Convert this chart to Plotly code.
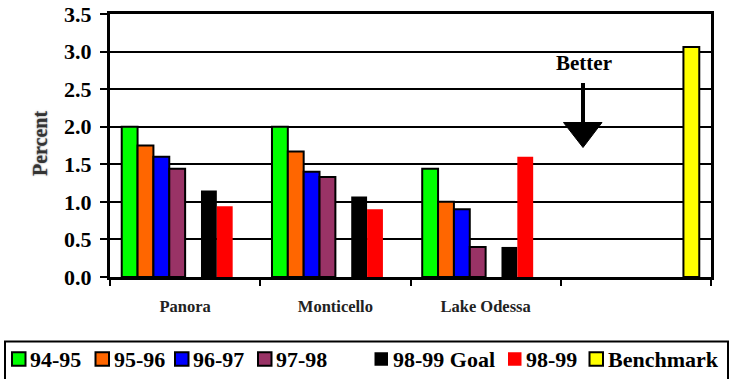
import plotly.graph_objects as go

# ---- data ----
categories = ["Panora", "Monticello", "Lake Odessa", " "]
series_names = ["94-95", "95-96", "96-97", "97-98", "", "98-99 Goal", "98-99", "Benchmark"]
v_94_95 = [2.00, 2.00, 1.44, None]
v_95_96 = [1.75, 1.67, 1.00, None]
v_96_97 = [1.60, 1.40, 0.90, None]
v_97_98 = [1.44, 1.33, 0.40, None]
v_spacer = [None, None, None, None]
v_goal = [1.15, 1.07, 0.40, None]
v_98_99 = [0.94, 0.90, 1.60, None]
v_bench = [None, None, None, 3.06]
y_tick_vals = [0.0, 0.5, 1.0, 1.5, 2.0, 2.5, 3.0, 3.5]

series_values = [v_94_95, v_95_96, v_96_97, v_97_98, v_spacer, v_goal, v_98_99, v_bench]
series_colors = ["#00FF00", "#FF6600", "#0000FF", "#993366", "rgba(0,0,0,0)",
                 "#000000", "#FF0000", "#FFFF00"]
series_outline = [2, 2, 2, 2, 0, 0, 0, 2]

# ---- geometry (pixels) ----
W, H = 730, 379
PL, PR, PT, PB = 110, 711, 14, 277


def px_x(px):
    return (px - PL) / (PR - PL)


def px_y(py):
    return (PB - py) / (PB - PT)


SERIF = "Liberation Serif"

fig = go.Figure()
for name, vals, col, lw in zip(series_names, series_values, series_colors, series_outline):
    fig.add_trace(go.Bar(
        x=categories, y=vals, name=name,
        marker=dict(color=col, line=dict(color="black", width=lw)),
        showlegend=False,
    ))

fig.update_layout(
    width=W, height=H,
    margin=dict(l=PL, r=W - PR, t=PT, b=H - PB, autoexpand=False),
    paper_bgcolor="white", plot_bgcolor="white",
    barmode="group", bargap=0.156, bargroupgap=0,
    font=dict(family=SERIF, color="black"),
)

fig.update_yaxes(
    range=[0, 3.5], tickvals=y_tick_vals, tickformat=".1f",
    tickfont=dict(family=SERIF, size=22, color="black", weight="bold"),
    showgrid=True, gridcolor="black", gridwidth=2,
    zeroline=False,
    showline=True, linecolor="black", linewidth=3, mirror=True,
    ticks="outside", ticklen=7, tickwidth=2, tickcolor="black",
    ticklabelstandoff=4,
)
fig.update_xaxes(
    type="category", tickson="boundaries",
    tickfont=dict(family=SERIF, size=16.5, color="#222222", weight="bold"),
    showgrid=False,
    showline=True, linecolor="black", linewidth=3, mirror=True,
    ticks="outside", ticklen=6, tickwidth=2, tickcolor="black",
    ticklabelstandoff=12,
)

# axis title
fig.add_annotation(
    text="Percent", xref="paper", yref="paper",
    x=px_x(40), y=px_y(144), xanchor="center", yanchor="middle",
    textangle=-90, showarrow=False,
    font=dict(family=SERIF, size=20, color="#333333", weight="bold",
              shadow="0px 0px 2px #777777"),
)

# "Better" callout with downward arrow
fig.add_annotation(
    text="Better", xref="paper", yref="paper",
    x=px_x(584), y=px_y(63), xanchor="center", yanchor="middle", showarrow=False,
    font=dict(family=SERIF, size=21, color="black", weight="bold"),
)
fig.add_shape(type="line", xref="paper", yref="paper",
              x0=px_x(583), x1=px_x(583), y0=px_y(83), y1=px_y(125),
              line=dict(color="black", width=4))
fig.add_shape(type="path", xref="paper", yref="paper",
              path="M {a},{b} L {c},{b} L {d},{e} Z".format(
                  a=px_x(563.5), b=px_y(122.5), c=px_x(602), d=px_x(583), e=px_y(147.5)),
              fillcolor="black", line=dict(color="black", width=1))

# legend box
fig.add_shape(type="rect", xref="paper", yref="paper",
              x0=px_x(5), x1=px_x(728), y0=px_y(341.5), y1=px_y(400),
              line=dict(color="black", width=2), fillcolor="rgba(0,0,0,0)")

legend_swatch_left = [12, 95.5, 175, 258, None, 374.5, 508, 589.5]
LEG_Y = 359
SW = 13.5
for name, col, lw, sx in zip(series_names, series_colors, series_outline, legend_swatch_left):
    if sx is None:
        continue
    fig.add_shape(type="rect", xref="paper", yref="paper",
                  x0=px_x(sx), x1=px_x(sx + SW),
                  y0=px_y(LEG_Y - SW / 2), y1=px_y(LEG_Y + SW / 2),
                  fillcolor=col,
                  line=dict(color="black", width=2 if lw else 0))
    fig.add_annotation(
        text=name, xref="paper", yref="paper",
        x=px_x(sx + SW + 2.5), y=px_y(LEG_Y), xanchor="left", yanchor="middle",
        showarrow=False,
        font=dict(family=SERIF, size=22, color="black", weight="bold"),
    )

fig.write_html("out.html")
